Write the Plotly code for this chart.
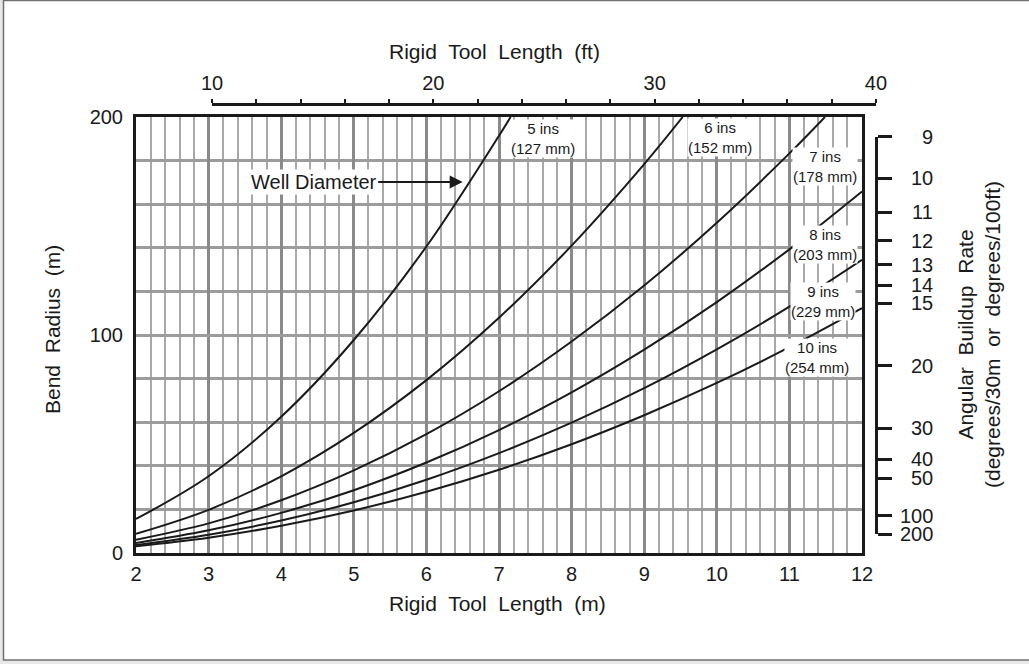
import plotly.graph_objects as go

# Rigid tool length (m) and bend radius (m), one list per well diameter
diam_in = [5, 6, 7, 8, 9, 10]
diam_mm = [127, 152, 178, 203, 229, 254]

len_5 = [2, 3, 4, 5, 6, 7, 7.16]
rad_5 = [15.6, 35.2, 62.5, 97.7, 140.6, 191.4, 200]
len_6 = [2, 3, 4, 5, 6, 7, 8, 9, 9.53]
rad_6 = [8.8, 19.8, 35.2, 55.1, 79.3, 107.9, 141.0, 178.4, 200]
len_7 = [2, 3, 4, 5, 6, 7, 8, 9, 10, 11, 11.49]
rad_7 = [6.1, 13.6, 24.2, 37.9, 54.5, 74.2, 97.0, 122.7, 151.5, 183.3, 200]
len_8 = [2, 3, 4, 5, 6, 7, 8, 9, 10, 11, 12]
rad_8 = [4.6, 10.4, 18.4, 28.8, 41.5, 56.4, 73.7, 93.3, 115.1, 139.3, 165.8]
len_9 = [2, 3, 4, 5, 6, 7, 8, 9, 10, 11, 12]
rad_9 = [3.7, 8.4, 14.9, 23.3, 33.6, 45.8, 59.8, 75.6, 93.4, 113.0, 134.5]
len_10 = [2, 3, 4, 5, 6, 7, 8, 9, 10, 11, 12]
rad_10 = [3.1, 7.0, 12.5, 19.5, 28.1, 38.2, 49.9, 63.2, 78.0, 94.4, 112.3]

curves = [(len_5, rad_5), (len_6, rad_6), (len_7, rad_7),
          (len_8, rad_8), (len_9, rad_9), (len_10, rad_10)]

# where each curve label sits (data coords)
label_pos = [(7.61, 190), (10.04, 190.4), (11.49, 177.5),
             (11.49, 141.5), (11.46, 115.3), (11.38, 89.9)]

x_ticks_m = [2, 3, 4, 5, 6, 7, 8, 9, 10, 11, 12]
y_ticks_m = [0, 100, 200]
ft_ticks = list(range(10, 41, 2))
ft_labels = ["10", "20", "30", "40"]
rate_ticks = [9, 10, 11, 12, 13, 14, 15, 20, 30, 40, 50, 100, 200]

FT_PER_M = 1 / 0.3048


def radius_for_rate(rate):
    # degrees per 30 m -> bend radius in m
    return 30 * 180 / (3.14159265 * rate)


# pixel layout of the drawing area
W_FIG, H_FIG = 1029, 664
L, R, T, B = 136, 880, 95, 553
PW, PH = R - L, B - T
X0, X1 = 136, 862      # main plot left/right px
Y_TOP = 117            # main plot top px


def fx(px):
    return (px - L) / PW


def fy(py):
    return (B - py) / PH


def m_to_px(m):
    return X0 + (m - 2) * (X1 - X0) / 10


def r_to_px(r):
    return B - r * (B - Y_TOP) / 200


FONT = "Liberation Sans, Arial, Helvetica, sans-serif"
INK = "#1a1a1a"

fig = go.Figure()
for xs, ys in curves:
    fig.add_trace(go.Scatter(
        x=xs, y=ys, mode="lines", line=dict(color=INK, width=2, shape="spline"),
        showlegend=False, hoverinfo="skip",
    ))

# dummy trace so the ft / rate axes get drawn (own subplot, no grid)
fig.add_trace(go.Scatter(x=[None], y=[None], xaxis="x2", yaxis="y2",
                         showlegend=False, hoverinfo="skip"))

x_dom = [0, fx(X1)]
y_dom = [0, fy(Y_TOP)]

ft_lo, ft_hi = ft_ticks[0], ft_ticks[-1]
x2_dom = [fx(m_to_px(ft_lo / FT_PER_M)), fx(m_to_px(ft_hi / FT_PER_M))]

r_hi, r_lo = radius_for_rate(rate_ticks[0]), radius_for_rate(rate_ticks[-1])
y2_dom = [fy(r_to_px(r_lo)), fy(r_to_px(r_hi))]

fig.update_layout(
    width=W_FIG, height=H_FIG,
    margin=dict(l=L, r=W_FIG - R, t=T, b=H_FIG - B),
    paper_bgcolor="#e8e8e8", plot_bgcolor="rgba(0,0,0,0)",
    font=dict(family=FONT, size=20, color=INK),
    showlegend=False,
    xaxis=dict(
        domain=x_dom, range=[2, 12], tickvals=x_ticks_m, ticks="",
        showgrid=True, gridcolor="#8a8a8a", gridwidth=3,
        minor=dict(dtick=0.2, showgrid=True, gridcolor="#a9a9a9", gridwidth=2),
        showline=True, linecolor=INK, linewidth=3, mirror=True,
        zeroline=False, ticklabelstandoff=1, anchor="y",
    ),
    yaxis=dict(
        domain=y_dom, range=[0, 200], tickvals=y_ticks_m, ticks="",
        showgrid=True, gridcolor="#9c9c9c", gridwidth=3,
        minor=dict(dtick=20, showgrid=True, gridcolor="#9c9c9c", gridwidth=3),
        showline=True, linecolor=INK, linewidth=3, mirror=True,
        zeroline=False, ticklabelstandoff=6, anchor="x",
    ),
    xaxis2=dict(
        domain=x2_dom, range=[ft_lo, ft_hi], side="top", anchor="free",
        position=fy(104), tickvals=ft_ticks,
        ticktext=[str(v) if str(v) in ft_labels else "" for v in ft_ticks],
        ticks="outside", ticklen=4, tickwidth=2, tickcolor=INK,
        showline=True, linecolor=INK, linewidth=2.5,
        showgrid=False, zeroline=False, ticklabelstandoff=1,
    ),
    yaxis2=dict(
        domain=y2_dom, range=[r_lo, r_hi], side="right", anchor="free",
        position=fx(876), tickvals=[radius_for_rate(v) for v in rate_ticks],
        showticklabels=False, ticks="outside", ticklen=14, tickwidth=2.5,
        tickcolor=INK, showline=True, linecolor=INK, linewidth=2.5,
        showgrid=False, zeroline=False,
    ),
)

# outer frame (white sheet)
fig.add_shape(type="rect", xref="paper", yref="paper", layer="below",
              x0=fx(3.5), x1=fx(1040), y0=fy(660), y1=fy(0.5),
              fillcolor="white", line=dict(color="#707070", width=1.5))

ann = []
# right-hand rate labels, right aligned
for v in rate_ticks:
    ann.append(dict(xref="paper", yref="y2", x=fx(935), y=radius_for_rate(v),
                    text=str(v), showarrow=False, xanchor="right", yanchor="middle",
                    font=dict(size=20)))

for (lx, ly), d_in, d_mm in zip(label_pos, diam_in, diam_mm):
    ann.append(dict(xref="x", yref="y", x=lx, y=ly, text=f"{d_in} ins<br>({d_mm} mm)",
                    showarrow=False, bgcolor="white", borderpad=0,
                    xanchor="center", yanchor="middle", font=dict(size=15)))

ann.append(dict(xref="x", yref="y", x=6.50, y=170.2, text="Well Diameter",
                showarrow=True, arrowhead=2, arrowsize=1.3, arrowwidth=2,
                arrowcolor=INK, ax=-149, ay=0, bgcolor="white",
                borderpad=1, font=dict(size=20)))

# axis titles
titles = [
    ("Rigid  Tool  Length  (ft)", 494, 51, 0),
    ("Rigid  Tool  Length  (m)", 497, 603, 0),
    ("Bend  Radius  (m)", 52, 330, -90),
    ("Angular  Buildup  Rate<br>(degrees/30m  or  degrees/100ft)", 979, 335, -90),
]
for text, px, py, ang in titles:
    ann.append(dict(xref="paper", yref="paper", x=fx(px), y=fy(py), text=text,
                    textangle=ang, showarrow=False, xanchor="center",
                    yanchor="middle", font=dict(size=21)))

fig.update_layout(annotations=ann)

fig.write_html("out.html", config={"displayModeBar": False},
               post_script="document.body.style.margin='0';")
